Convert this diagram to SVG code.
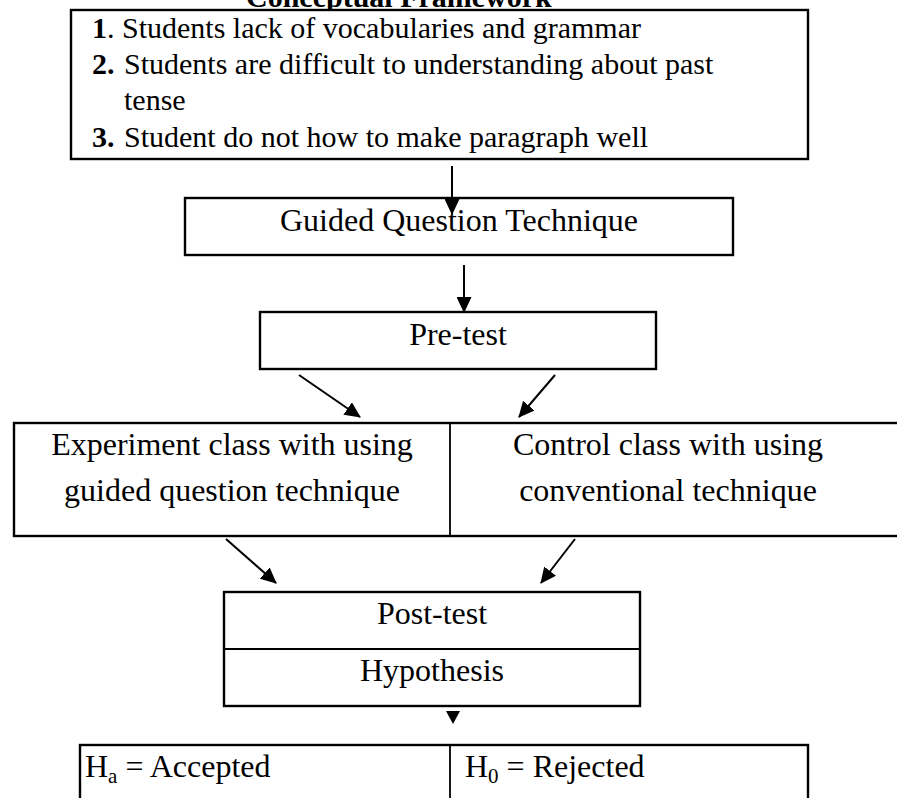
<svg xmlns="http://www.w3.org/2000/svg" width="897" height="798" viewBox="0 0 897 798">
<defs>
<style>
.box{fill:#fff;stroke:#000;stroke-width:2.4}
.div{stroke:#000;stroke-width:1.8;fill:none}
.t{font-family:"Liberation Serif","Times New Roman",serif;font-size:30px;fill:#000}
.m{font-size:32px}
.c{text-anchor:middle}
.b{font-weight:bold}
.conn line{stroke:#000;stroke-width:2}
</style>
<marker id="ah" markerUnits="userSpaceOnUse" markerWidth="16" markerHeight="15" viewBox="0 0 16 15" refX="15" refY="7.5" orient="auto">
<path d="M0,0 L16,7.5 L0,15 z" fill="#000"/>
</marker>
</defs>
<rect width="897" height="798" fill="#fff"/>
<text class="t b" x="246" y="7">Conceptual Framework</text>
<g id="problems">
<rect class="box" x="71" y="10" width="737" height="149"/>
<text class="t" x="92" y="38"><tspan class="b">1</tspan>. Students lack of vocabularies and grammar</text>
<text class="t b" x="92" y="74">2.</text>
<text class="t" x="124" y="74">Students are difficult to understanding about past</text>
<text class="t" x="124" y="110">tense</text>
<text class="t b" x="92" y="147">3.</text>
<text class="t" x="124" y="147">Student do not how to make paragraph well</text>
</g>
<g id="guided">
<rect class="box" x="185" y="198" width="548" height="57"/>
<text class="t m c" x="459" y="231">Guided Question Technique</text>
</g>
<g id="pretest">
<rect class="box" x="260" y="312" width="396" height="57"/>
<text class="t m c" x="458" y="345">Pre-test</text>
</g>
<g id="classes">
<rect class="box" x="14" y="423" width="900" height="113"/>
<line class="div" x1="450" y1="423" x2="450" y2="536"/>
<text class="t m c" x="232" y="455">Experiment class with using</text>
<text class="t m c" x="232" y="501">guided question technique</text>
<text class="t m c" x="668" y="455">Control class with using</text>
<text class="t m c" x="668" y="501">conventional technique</text>
</g>
<g id="posttest">
<rect class="box" x="224" y="592" width="416" height="114"/>
<line class="div" x1="224" y1="649" x2="640" y2="649"/>
<text class="t m c" x="432" y="624">Post-test</text>
<text class="t m c" x="432" y="681">Hypothesis</text>
</g>
<g id="result">
<rect class="box" x="80" y="745" width="728" height="70"/>
<line class="div" x1="450" y1="745" x2="450" y2="798"/>
<text class="t m" x="85" y="777">H<tspan font-size="21" dy="6">a</tspan><tspan dy="-6"> = Accepted</tspan></text>
<text class="t m" x="465" y="777">H<tspan font-size="21" dy="6">0</tspan><tspan dy="-6"> = Rejected</tspan></text>
</g>
<g id="connectors" class="conn">
<line x1="452" y1="166" x2="452" y2="214" marker-end="url(#ah)"/>
<line x1="464" y1="265" x2="464" y2="312" marker-end="url(#ah)"/>
<line x1="299" y1="375" x2="360" y2="417" marker-end="url(#ah)"/>
<line x1="555" y1="375" x2="519" y2="417" marker-end="url(#ah)"/>
<line x1="226" y1="539" x2="276" y2="583" marker-end="url(#ah)"/>
<line x1="575" y1="539" x2="541" y2="583" marker-end="url(#ah)"/>
<polygon points="446,711 460,711 453,724" fill="#000"/>
</g>
</svg>
